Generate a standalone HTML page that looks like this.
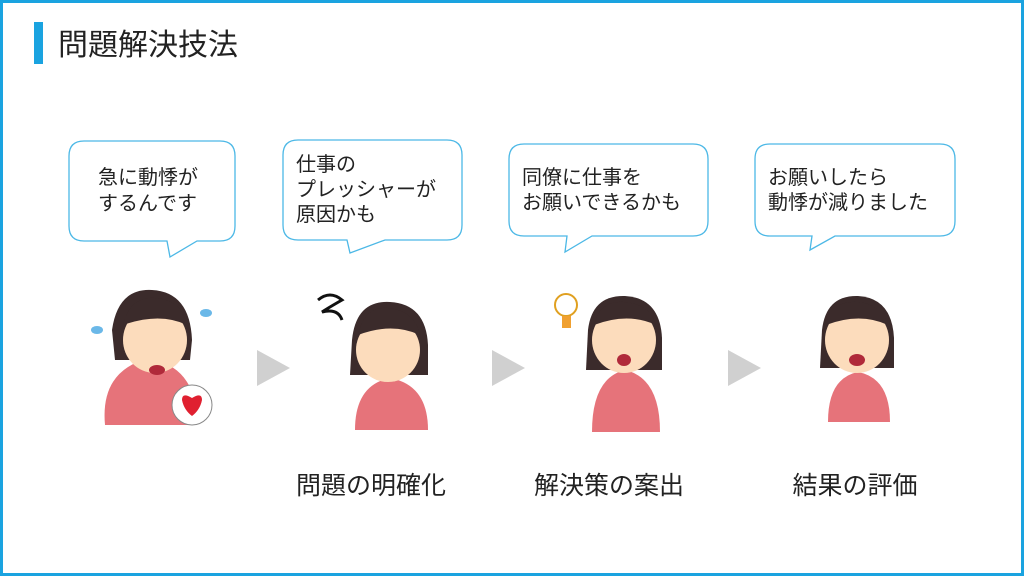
<!DOCTYPE html>
<html><head><meta charset="utf-8"><style>
body{margin:0;width:1024px;height:576px;overflow:hidden;background:#fff}
svg{display:block}
text{font-family:"Liberation Sans","Noto Sans CJK JP",sans-serif;fill:#222}
</style></head><body>
<svg width="1024" height="576" viewBox="0 0 1024 576">
<rect x="1.5" y="1.5" width="1021" height="573" fill="#fff" stroke="#1aa3e0" stroke-width="3"/>
<rect x="34" y="22" width="9" height="42" fill="#1aa3e0"/>
<text x="58" y="55" font-size="30">問題解決技法</text>

<g fill="#fff" stroke="#4cb8e6" stroke-width="1.3">
<path d="M84,141 H220 Q235,141 235,156 V226 Q235,241 220,241 H197 L170,257 L167,241 H84 Q69,241 69,226 V156 Q69,141 84,141Z"/>
<path d="M298,140 H447 Q462,140 462,155 V225 Q462,240 447,240 H385 L350,253 L347,240 H298 Q283,240 283,225 V155 Q283,140 298,140Z"/>
<path d="M524,144 H693 Q708,144 708,159 V221 Q708,236 693,236 H592 L565,252 L567,236 H524 Q509,236 509,221 V159 Q509,144 524,144Z"/>
<path d="M770,144 H940 Q955,144 955,159 V221 Q955,236 940,236 H835 L810,250 L812,236 H770 Q755,236 755,221 V159 Q755,144 770,144Z"/>
</g>
<g font-size="20">
<text x="98" y="184">急に動悸が</text><text x="98" y="210">するんです</text>
<text x="296" y="171">仕事の</text><text x="296" y="196">プレッシャーが</text><text x="296" y="221">原因かも</text>
<text x="522" y="184">同僚に仕事を</text><text x="522" y="209">お願いできるかも</text>
<text x="768" y="184">お願いしたら</text><text x="768" y="209">動悸が減りました</text>
</g>

<g fill="#d0d0d0">
<polygon points="257,350 290,368 257,386"/>
<polygon points="492,350 525,368 492,386"/>
<polygon points="728,350 761,368 728,386"/>
</g>

<g>
<path d="M105,425 Q100,370 150,358 Q200,370 195,425Z" fill="#e6737a"/>
<path d="M112,330 Q118,288 152,290 Q190,292 192,340 L190,360 L115,360Z" fill="#3b2b2b"/>
<ellipse cx="155" cy="340" rx="32" ry="33" fill="#fcdcbc"/>
<path d="M123,325 Q130,296 155,298 Q182,300 187,325 Q160,312 123,325Z" fill="#3b2b2b"/>
<ellipse cx="157" cy="370" rx="8" ry="5" fill="#b02a3a"/>
<circle cx="192" cy="405" r="20" fill="#fff" stroke="#888"/>
<path d="M182,400 Q182,392 192,398 Q202,392 202,400 Q200,410 192,416 Q184,410 182,400Z" fill="#e02030"/>
<ellipse cx="97" cy="330" rx="6" ry="4" fill="#6bb8e8"/>
<ellipse cx="206" cy="313" rx="6" ry="4" fill="#6bb8e8"/>
</g>
<g>
<path d="M355,430 Q355,385 390,378 Q428,385 428,430Z" fill="#e6737a"/>
<path d="M352,340 Q356,300 390,302 Q426,304 428,345 L428,375 L350,375Z" fill="#3b2b2b"/>
<ellipse cx="388" cy="350" rx="32" ry="32" fill="#fcdcbc"/>
<path d="M358,335 Q364,306 388,308 Q414,310 420,335 Q392,322 358,335Z" fill="#3b2b2b"/>
<path d="M318,300 q12,-10 24,0 q-14,8 -20,12 q16,-4 20,8" fill="none" stroke="#111" stroke-width="3"/>
</g>
<g>
<path d="M592,432 Q592,378 625,370 Q660,378 660,432Z" fill="#e6737a"/>
<path d="M588,330 Q592,295 625,296 Q660,298 662,338 L662,370 L586,370Z" fill="#3b2b2b"/>
<ellipse cx="624" cy="340" rx="32" ry="33" fill="#fcdcbc"/>
<path d="M594,325 Q600,300 624,302 Q650,304 656,325 Q628,312 594,325Z" fill="#3b2b2b"/>
<ellipse cx="624" cy="360" rx="7" ry="6" fill="#b02a3a"/>
<circle cx="566" cy="305" r="11" fill="#fff" stroke="#e0a020" stroke-width="2"/>
<rect x="562" y="316" width="9" height="12" fill="#f0a030"/>
</g>
<g>
<path d="M828,422 Q828,378 858,372 Q890,378 890,422Z" fill="#e6737a"/>
<path d="M822,330 Q826,295 858,296 Q892,298 894,338 L894,368 L820,368Z" fill="#3b2b2b"/>
<ellipse cx="857" cy="340" rx="32" ry="33" fill="#fcdcbc"/>
<path d="M826,325 Q832,300 857,302 Q882,304 888,325 Q860,312 826,325Z" fill="#3b2b2b"/>
<ellipse cx="857" cy="360" rx="8" ry="6" fill="#b02a3a"/>
</g>

<g font-size="25" text-anchor="middle">
<text x="371" y="494">問題の明確化</text>
<text x="609" y="494">解決策の案出</text>
<text x="855" y="494">結果の評価</text>
</g>
</svg>
</body></html>
